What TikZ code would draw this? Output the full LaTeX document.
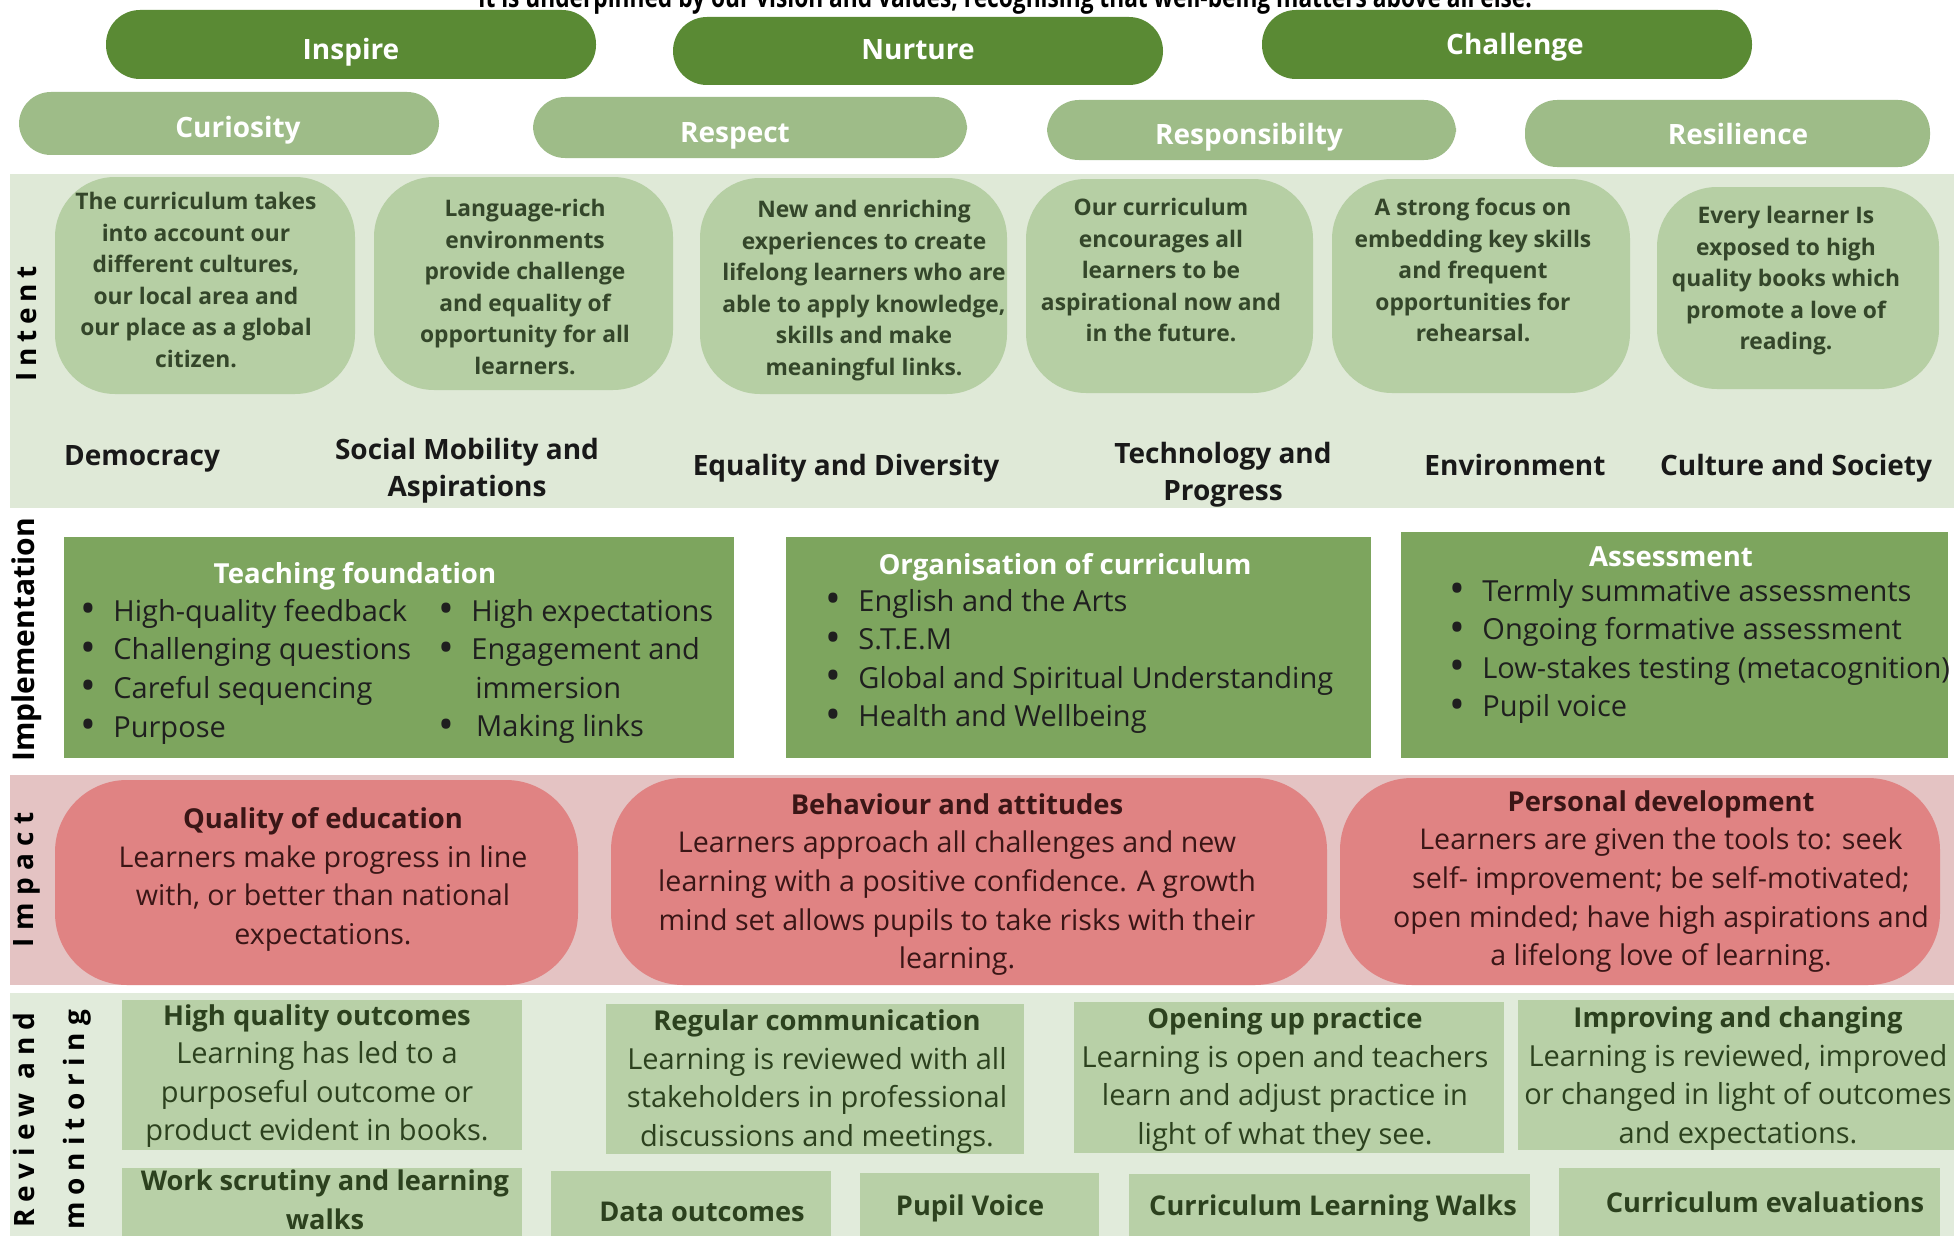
\documentclass[tikz,border=0pt]{standalone}
\usepackage{fontspec}
\setmainfont{Open Sans}
\newfontfamily\condfont{Open Sans}[FakeStretch=0.8]
\newfontfamily\sidefont{Open Sans}[LetterSpace=26]
\newfontfamily\sidefontb{Open Sans}[LetterSpace=20]
\newfontfamily\sidefontc{Open Sans}[LetterSpace=25]
\definecolor{valdark}{HTML}{5A8A34}
\definecolor{vallight}{HTML}{9EBC88}
\definecolor{intentbg}{HTML}{DFE9D7}
\definecolor{bubble}{HTML}{B6CFA4}
\definecolor{bubtxt}{HTML}{34462A}
\definecolor{implbox}{HTML}{7DA55E}
\definecolor{impactbg}{HTML}{E4C3C3}
\definecolor{impactbox}{HTML}{E08383}
\definecolor{imptxt}{HTML}{3A1616}
\definecolor{reviewbg}{HTML}{E1EBDB}
\definecolor{reviewbox}{HTML}{B8D0A7}
\definecolor{revtxt}{HTML}{2C411E}
\newcommand{\itm}[1]{\makebox[13pt][l]{\hspace{-3.7pt}\raisebox{-0.08em}{\scalebox{1.45}{\textbullet}}}#1}
\newcommand{\hd}[1]{{\bfseries\fontsize{13.7}{19.3}\selectfont #1}}
\begin{document}
\begin{tikzpicture}[x=0.5pt,y=-0.5pt,
    pill/.style={fill=valdark,rounded corners=17pt},
    pilllight/.style={fill=vallight,rounded corners=16pt},
    pilltext/.style={text=white,inner sep=0pt,text height=10pt,text depth=0pt,
      font=\bfseries\fontsize{14}{16}\selectfont},
    bubtext/.style={align=center,text=bubtxt,font=\bfseries\fontsize{11.4}{15.75}\selectfont},
    theme/.style={align=center,text=black!90,font=\bfseries\fontsize{14}{18.5}\selectfont},
    side/.style={rotate=90,font=\sidefont\bfseries\fontsize{14}{16}\selectfont},
    head/.style={text=white,font=\bfseries\fontsize{13.8}{19.3}\selectfont},
    list/.style={anchor=west,align=left,inner sep=0pt,text=black!88,font=\fontsize{14.5}{19.3}\selectfont},
    imptext/.style={align=center,text=imptxt,font=\fontsize{14.3}{19.3}\selectfont},
    revtext/.style={align=center,text=revtxt,font=\fontsize{14.5}{19.3}\selectfont},
    revsmall/.style={align=center,text=revtxt,font=\bfseries\fontsize{13.6}{19.3}\selectfont}]
  \useasboundingbox (0,0) rectangle (1954,1236);
  \fill[white] (0,0) rectangle (1954,1236);

  \node[anchor=base,font=\condfont\bfseries\fontsize{14.2}{16}\selectfont] (motto) at (1005,8)
    {It is underpinned by our vision and values, recognising that well-being matters above all else.};

  % values
  \fill[pill] (106,10) rectangle (596,79);
  \fill[pill] (673,17) rectangle (1163,85);
  \fill[pill] (1262,10) rectangle (1752,79);
  \fill[pilllight] (19,92) rectangle (439,155);
  \fill[pilllight] (533,97) rectangle (967,158);
  \fill[pilllight] (1047,100) rectangle (1456,160);
  \fill[pilllight] (1525,100) rectangle (1930,167);
  \node[pilltext] (inspire) at (351,50) {Inspire};
  \node[pilltext] (nurture) at (918,50) {Nurture};
  \node[pilltext] (challenge) at (1515,45) {Challenge};
  \node[pilltext] (curiosity) at (238,128) {Curiosity};
  \node[pilltext] (respect) at (735,132) {Respect};
  \node[pilltext] (responsibility) at (1249,135) {Responsibilty};
  \node[pilltext] (resilience) at (1738,135) {Resilience};

  % intent
  \fill[intentbg] (10,174) rectangle (1954,508);
  \fill[bubble,rounded corners=30pt] (55,177) rectangle (355,394);
  \fill[bubble,rounded corners=30pt] (374,177) rectangle (673,390);
  \fill[bubble,rounded corners=30pt] (700,178) rectangle (1007,394);
  \fill[bubble,rounded corners=30pt] (1026,179) rectangle (1313,393);
  \fill[bubble,rounded corners=30pt] (1332,179) rectangle (1630,393);
  \fill[bubble,rounded corners=30pt] (1657,187) rectangle (1939,389);
  \node[side,font=\sidefontb\bfseries\fontsize{14}{16}\selectfont] (intent) at (27,324) {Intent};
  \node[bubtext] (cultures) at (196,280) {The curriculum takes\\into account our\\different cultures,\\our local area and\\our place as a global\\citizen.};
  \node[bubtext] (language) at (525,287) {Language-rich\\environments\\provide challenge\\and equality of\\opportunity for all\\learners.};
  \node[bubtext] (enriching) at (864,290.5) {New and enriching\\experiences to create\\lifelong learners who are\\able to apply knowledge,\\skills and make\\meaningful links.};
  \node[bubtext] (aspire) at (1161,270) {Our curriculum\\encourages all\\learners to be\\aspirational now and\\in the future.};
  \node[bubtext] (skills) at (1473,270) {A strong focus on\\embedding key skills\\and frequent\\opportunities for\\rehearsal.};
  \node[bubtext] (books) at (1786,281) {Every learner Is\\exposed to high\\quality books which\\promote a love of\\reading.};
  \node[theme] (democracy) at (142,459) {Democracy};
  \node[theme] (mobility) at (467,471) {Social Mobility and\\Aspirations};
  \node[theme] (equality) at (846,468.5) {Equality and Diversity};
  \node[theme] (technology) at (1223,475) {Technology and\\Progress};
  \node[theme] (environment) at (1515,465) {Environment};
  \node[theme] (culture) at (1796,468.5) {Culture and Society};

  % implementation
  \node[rotate=90,font=\bfseries\fontsize{15}{16}\selectfont] (implementation) at (27,640) {Implementation};
  \fill[implbox] (64,537) rectangle (734,758);
  \fill[implbox] (786,537) rectangle (1371,758);
  \fill[implbox] (1401,532) rectangle (1948,758);
  \node[head] (teachhead) at (355,576) {Teaching foundation};
  \node[list] (teacha) at (87,671.5) {\itm{High-quality feedback}\\\itm{Challenging questions}\\\itm{Careful sequencing}\\\itm{Purpose}};
  \node[list] (teachb) at (445,671.5) {\itm{High expectations}\\\itm{Engagement and}\\\makebox[15pt]{}immersion\\\itm{\,Making links}};
  \node[head] (orghead) at (1065,567.5) {Organisation of curriculum};
  \node[list] (orglist) at (832,661.5) {\itm{English and the Arts}\\\itm{S.T.E.M}\\\itm{Global and Spiritual Understanding}\\\itm{Health and Wellbeing}};
  \node[head] (asshead) at (1671,557) {Assessment};
  \node[list] (asslist) at (1456,651.5) {\itm{Termly summative assessments}\\\itm{Ongoing formative assessment}\\\itm{Low-stakes testing (metacognition)}\\\itm{Pupil voice}};

  % impact
  \fill[impactbg] (10,775) rectangle (1954,985);
  \fill[impactbox,rounded corners=36pt] (55,780) rectangle (578,985);
  \fill[impactbox,rounded corners=36pt] (611,778) rectangle (1327,985);
  \fill[impactbox,rounded corners=36pt] (1340,778) rectangle (1940,985);
  \node[side] (impact) at (27,880) {Impact};
  \node[imptext] (quality) at (323,879.5) {\hd{Quality of education}\\Learners make progress in line\\with, or better than national\\expectations.};
  \node[imptext] (behaviour) at (957,884.5) {\hd{Behaviour and attitudes}\\Learners approach all challenges and new\\learning with a positive confidence. A growth\\mind set allows pupils to take risks with their\\learning.};
  \node[imptext] (personal) at (1661,881.5) {\hd{Personal development}\\Learners are given the tools to: seek\\self- improvement; be self-motivated;\\open minded; have high aspirations and\\a lifelong love of learning.};

  % review and monitoring
  \fill[reviewbg] (10,993) rectangle (1954,1236);
  \node[side,font=\sidefontc\bfseries\fontsize{14}{16}\selectfont,anchor=south] (review) at (42,1120) {Review and};
  \node[side,font=\sidefontc\bfseries\fontsize{14}{16}\selectfont,anchor=north] (monitoring) at (56,1120) {monitoring};
  \fill[reviewbox] (122,1000) rectangle (522,1150);
  \fill[reviewbox] (606,1004) rectangle (1024,1154);
  \fill[reviewbox] (1074,1002) rectangle (1504,1153);
  \fill[reviewbox] (1518,1000) rectangle (1954,1150);
  \fill[reviewbox] (122,1168) rectangle (522,1236);
  \fill[reviewbox] (551,1171) rectangle (831,1236);
  \fill[reviewbox] (860,1173) rectangle (1099,1236);
  \fill[reviewbox] (1129,1174) rectangle (1530,1236);
  \fill[reviewbox] (1559,1168) rectangle (1940,1236);
  \node[revtext] (outcomes) at (317,1076) {\hd{High quality outcomes}\\Learning has led to a\\purposeful outcome or\\product evident in books.};
  \node[revtext] (communication) at (817,1081.5) {\hd{Regular communication}\\Learning is reviewed with all\\stakeholders in professional\\discussions and meetings.};
  \node[revtext] (practice) at (1285,1079.5) {\hd{Opening up practice}\\Learning is open and teachers\\learn and adjust practice in\\light of what they see.};
  \node[revtext] (improving) at (1738,1078.5) {\hd{Improving and changing}\\Learning is reviewed, improved\\or changed in light of outcomes\\and expectations.};
  \node[revsmall] (scrutiny) at (325,1199.5) {Work scrutiny and learning\\walks};
  \node[revsmall] (data) at (702,1212) {Data outcomes};
  \node[revsmall] (voice) at (970,1208.5) {Pupil Voice};
  \node[revsmall] (walks) at (1333,1208.5) {Curriculum Learning Walks};
  \node[revsmall] (evaluations) at (1765,1202) {Curriculum evaluations};
\end{tikzpicture}
\end{document}
